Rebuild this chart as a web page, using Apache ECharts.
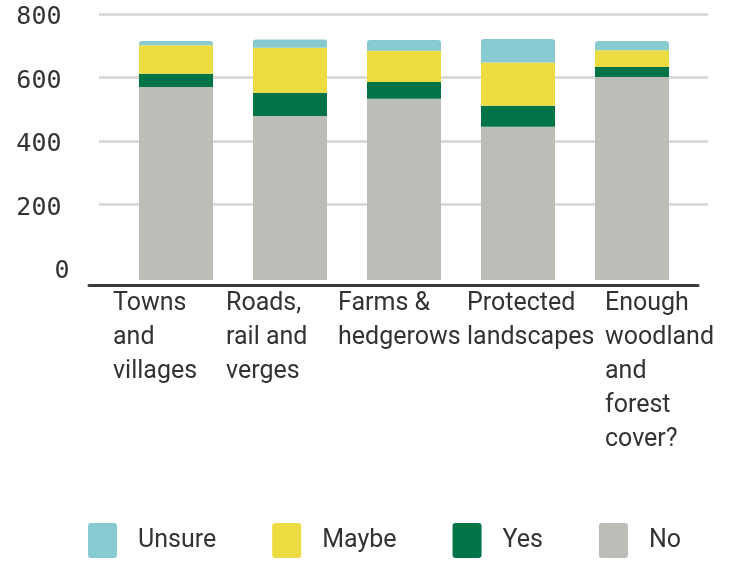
<!DOCTYPE html>
<html>
<head>
<meta charset="utf-8">
<script src="https://cdn.jsdelivr.net/npm/echarts@6/dist/echarts.min.js"></script>
<style>
  html, body { margin: 0; padding: 0; background: #ffffff; }
  #chart { width: 734px; height: 562px; }
</style>
</head>
<body>
<div id="chart"></div>
<script>
// Survey answers per landscape type
const categories = [
  'Towns\nand\nvillages',
  'Roads,\nrail and\nverges',
  'Farms &\nhedgerows',
  'Protected\nlandscapes',
  'Enough\nwoodland\nand\nforest\ncover?'
];
const noValues     = [607, 516, 570, 482, 639];
const yesValues    = [42, 73, 53, 66, 31];
const maybeValues  = [90, 142, 98, 136, 53];
const unsureValues = [13, 26, 34, 74, 29];

const yTicks = [0, 200, 400, 600, 800];

// per-category horizontal shift of the wrapped axis labels
const labelShift = [-63, -64, -66, -51, -27];

const colors = {
  Unsure: '#87cbd1',
  Maybe: '#ecdc42',
  Yes: '#007447',
  No: '#bbbdb7'
};

const textColor = '#333333';
const sansFont = 'Roboto';

const catLabelStyle = {
  align: 'left',
  verticalAlign: 'top',
  color: textColor,
  fontFamily: sansFont,
  fontSize: 25,
  lineHeight: 34
};

const chart = echarts.init(document.getElementById('chart'), null, { renderer: 'canvas' });

const option = {
  animation: false,
  backgroundColor: '#ffffff',
  grid: [
    // gridlines and value labels
    { left: 99, right: 26, top: 14, bottom: 293.7 },
    // bars
    { left: 119, width: 570, top: 14, bottom: 282 },
    // baseline rule
    { left: 89, right: 36, top: 14, bottom: 277 }
  ],
  xAxis: [
    { gridIndex: 0, type: 'category', data: categories, show: false },
    {
      gridIndex: 1,
      type: 'category',
      data: categories.map((c, i) => ({
        value: c,
        textStyle: Object.assign({}, catLabelStyle, { padding: [0, 0, 0, labelShift[i]] })
      })),
      axisLine: { show: false },
      axisTick: { show: false },
      axisLabel: Object.assign({ interval: 0, margin: 7 }, catLabelStyle)
    },
    {
      gridIndex: 2,
      type: 'category',
      data: categories,
      axisLine: { show: true, lineStyle: { color: '#3a3a3a', width: 3 } },
      axisTick: { show: false },
      axisLabel: { show: false }
    }
  ],
  yAxis: [
    {
      gridIndex: 0,
      type: 'value',
      min: yTicks[0],
      max: yTicks[yTicks.length - 1],
      interval: 200,
      axisLine: { show: false },
      axisTick: { show: false },
      splitLine: { show: true, showMinLine: false, lineStyle: { color: '#d4d4d4', width: 2.5 } },
      axisLabel: {
        margin: 29.5,
        color: textColor,
        fontFamily: 'DejaVu Sans Mono',
        fontSize: 25,
        padding: [7, 0, 0, 0],
        formatter: v => (v === 0 ? '{z|0}' : '{n|' + v + '}'),
        rich: {
          n: { fontFamily: 'DejaVu Sans Mono', fontSize: 25, color: textColor, padding: [0, 8, 0, 0] },
          z: { fontFamily: 'DejaVu Sans Mono', fontSize: 25, color: textColor }
        }
      }
    },
    { gridIndex: 1, type: 'value', min: 0, max: 837, show: false, splitLine: { show: false } },
    { gridIndex: 2, type: 'value', show: false, splitLine: { show: false } }
  ],
  legend: {
    left: 88,
    top: 523,
    padding: 0,
    itemWidth: 29,
    itemHeight: 35,
    itemGap: 56,
    icon: 'path://M3,0 L26,0 Q29,0 29,3 L29,32 Q29,35 26,35 L3,35 Q0,35 0,32 L0,3 Q0,0 3,0 Z',
    data: ['Unsure', 'Maybe', 'Yes', 'No'],
    textStyle: {
      color: textColor,
      fontFamily: sansFont,
      fontSize: 25,
      padding: [0, 0, 0, 16]
    }
  },
  series: [
    { name: 'No', data: noValues },
    { name: 'Yes', data: yesValues },
    { name: 'Maybe', data: maybeValues },
    { name: 'Unsure', data: unsureValues, radius: [3, 3, 0, 0] }
  ].map(s => ({
    name: s.name,
    type: 'bar',
    stack: 'answers',
    xAxisIndex: 1,
    yAxisIndex: 1,
    barWidth: 74,
    data: s.data,
    itemStyle: { color: colors[s.name], borderRadius: s.radius || 0 },
    emphasis: { disabled: true }
  }))
};

chart.setOption(option);
</script>
</body>
</html>
